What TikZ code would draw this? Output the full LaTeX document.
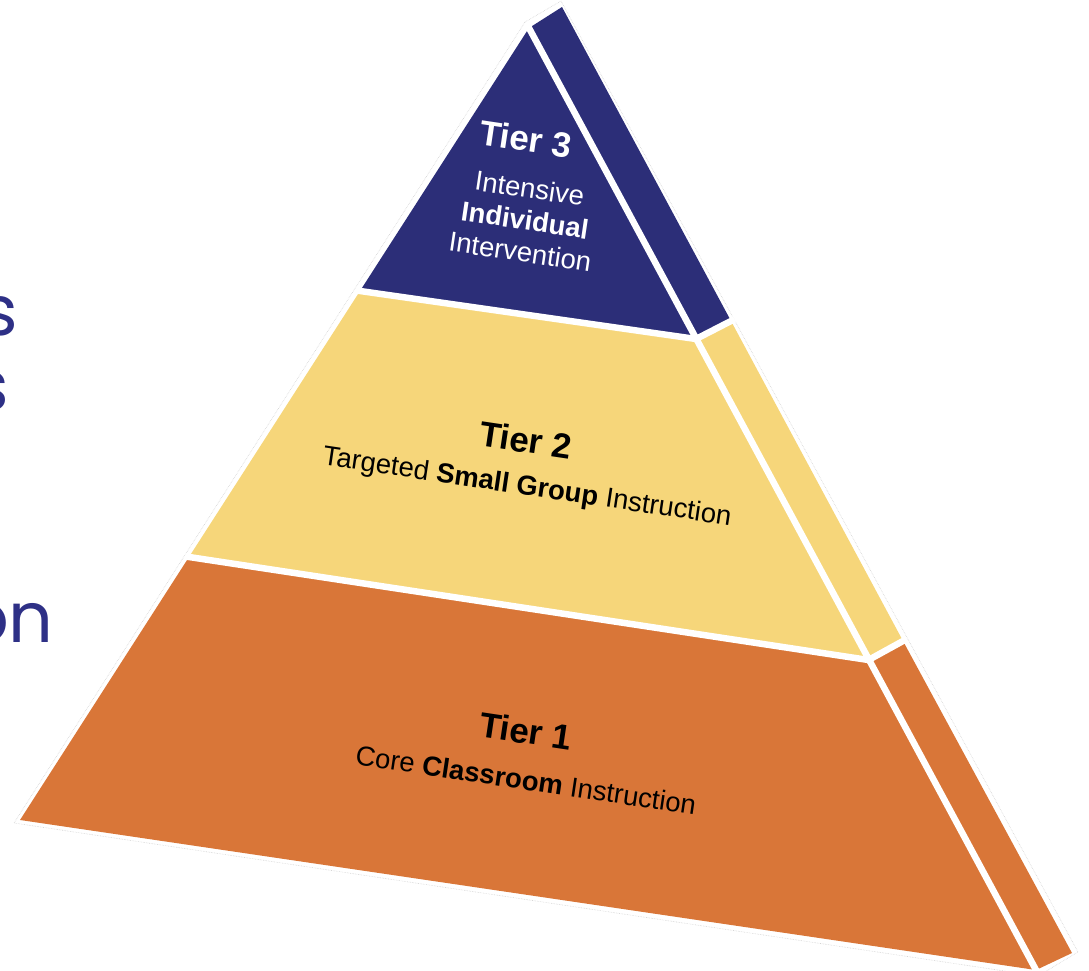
\documentclass[tikz,border=0pt]{standalone}
\usepackage{fontspec}
\setmainfont{Liberation Sans}
\newfontfamily\sidefont{Poppins}
\definecolor{navy}{RGB}{44,46,120}
\definecolor{navytext}{RGB}{46,48,134}
\definecolor{tieryellow}{RGB}{246,214,122}
\definecolor{tierorange}{RGB}{217,118,56}
\tikzset{
  gap/.style={white, line width=6.5pt, line cap=butt, shorten >=-4pt, shorten <=-4pt},
  tiertitle/.style={inner sep=0pt, rotate=-8.5, font=\bfseries\fontsize{35}{38}\selectfont},
  tiertext/.style={inner sep=0pt, rotate=-8.5, align=center, font=\fontsize{27.5}{32}\selectfont},
  sideword/.style={inner sep=0pt, anchor=base east, text=navytext, font=\sidefont\fontsize{70}{80}\selectfont},
  faint/.style={gray!35, densely dotted, line width=0.6pt}
}
\begin{document}
\begin{tikzpicture}[x=1pt, y=-1pt]
\useasboundingbox (0,0) rectangle (1089,971);
\begin{scope}
\clip (0,0) rectangle (1089,971);
\node[sideword] (w1) at (18,335) {s};
\node[sideword] (w2) at (9,410) {s};
\node[sideword] (w3) at (54,642) {on};
\end{scope}
% key points
\coordinate (A) at (529,28);
\coordinate (S0) at (562,7);
\coordinate (L32) at (360,291);
\coordinate (R32) at (696,339);
\coordinate (S32) at (731,321);
\coordinate (L21) at (189,557);
\coordinate (R21) at (868.5,660);
\coordinate (S21) at (903,641);
\coordinate (BL) at (20,820);
\coordinate (BR) at (1036,970);
\coordinate (SB) at (1072,953);
% faint outline
\draw[faint] (525,22) -- (561,1) -- (1078,952) -- (1038,976) -- (14,823) -- cycle;
% fills
\fill[navy] (A) -- (R32) -- (L32) -- cycle;
\fill[navy] (A) -- (S0) -- (S32) -- (R32) -- cycle;
\fill[tieryellow] (L32) -- (R32) -- (R21) -- (L21) -- cycle;
\fill[tieryellow] (R32) -- (S32) -- (S21) -- (R21) -- cycle;
\fill[tierorange] (L21) -- (R21) -- (BR) -- (BL) -- cycle;
\fill[tierorange] (R21) -- (S21) -- (SB) -- (BR) -- cycle;
% white separators
\draw[gap] (A) -- (BR);
\draw[gap] (L32) -- (R32) -- (S32);
\draw[gap] (L21) -- (R21) -- (S21);
% texts
\node[tiertitle, text=white] (t3) at (526,139) {Tier 3};
\node[tiertext, text=white] (t3d) at (525,220) {Intensive\\\textbf{Individual}\\Intervention};
\node[tiertitle, text=black] (t2) at (526,440) {Tier 2};
\node[tiertext, text=black] (t2d) at (527,488) {Targeted \textbf{Small Group} Instruction};
\node[tiertitle, text=black] (t1) at (526,731) {Tier 1};
\node[tiertext, text=black] (t1d) at (526,780) {Core \textbf{Classroom} Instruction};
\end{tikzpicture}
\end{document}
